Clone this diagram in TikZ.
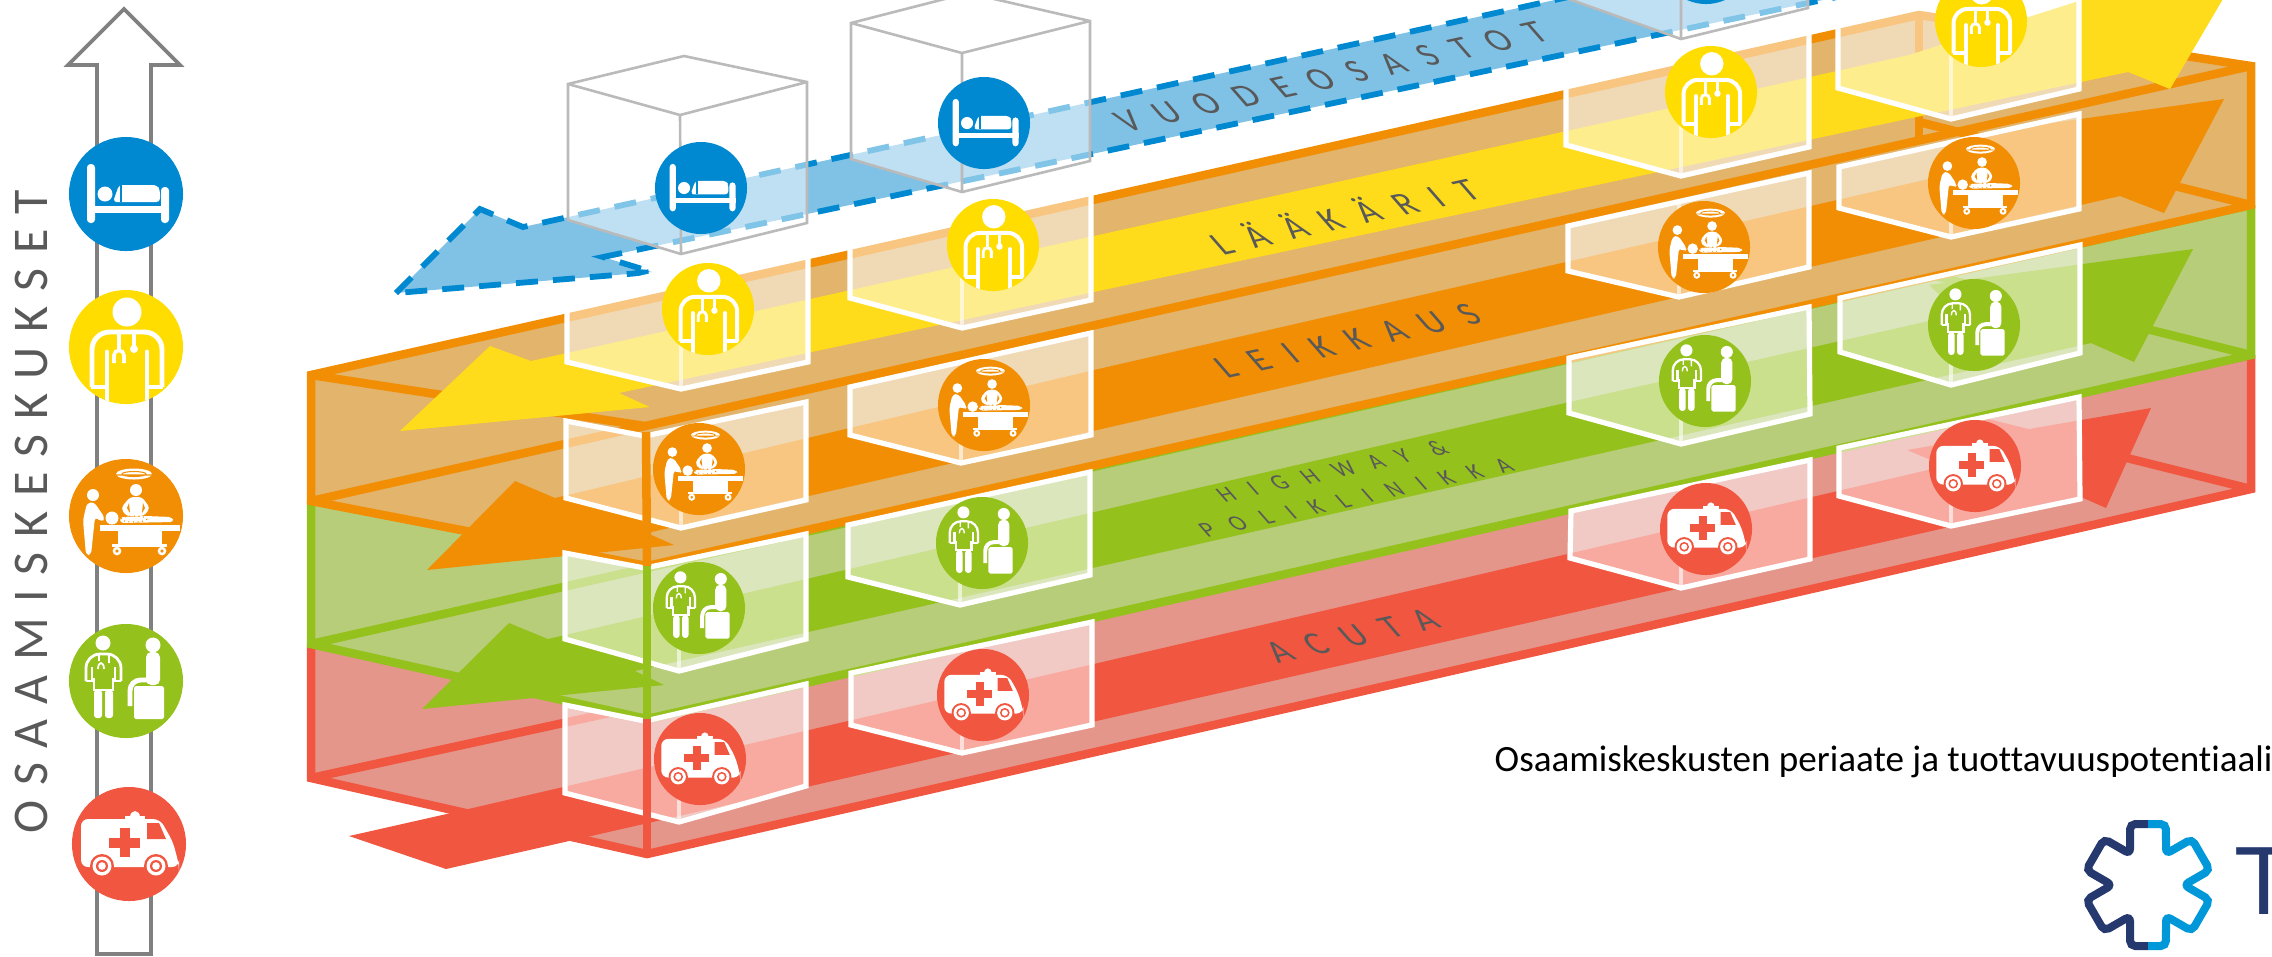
\documentclass[tikz,border=0pt]{standalone}
\usepackage{fontspec}
\setmainfont{Carlito}
\newfontfamily\logofont{Liberation Sans}
\definecolor{bedblue}{HTML}{0089D0}
\definecolor{bandblue}{HTML}{80C1E6}
\definecolor{docyellow}{HTML}{FFDD00}
\definecolor{bandyellow}{HTML}{FEDC1B}
\definecolor{surgorange}{HTML}{F18E04}
\definecolor{orangeface}{HTML}{E2B46C}
\definecolor{clinicgreen}{HTML}{95C11C}
\definecolor{greenface}{HTML}{B7CD7A}
\definecolor{acutared}{HTML}{F15641}
\definecolor{redface}{HTML}{E4968B}
\definecolor{labelgray}{HTML}{595959}
\definecolor{axisgray}{HTML}{808080}
\definecolor{starnavy}{HTML}{25396F}
\definecolor{starcyan}{HTML}{0098D8}
\newcommand{\starpath}{(106.4:63.6) -- (73.6:63.6) -- (60:36) -- (46.4:63.6) -- (13.6:63.6) -- (0:36) -- (-13.6:63.6) -- (-46.4:63.6) -- (-60:36) -- (-73.6:63.6) -- (-106.4:63.6) -- (-120:36) -- (-133.6:63.6) -- (-166.4:63.6) -- (180:36) -- (166.4:63.6) -- (133.6:63.6) -- (120:36) -- cycle}
\tikzset{
  prismline/.style={draw=#1, line width=0.085cm, line join=miter},
  boxface/.style={fill=white, fill opacity=0.5},
  whitebox/.style={boxface, draw=white, line width=0.052cm, line join=miter},
  grayline/.style={draw=black!27, line width=0.026cm},
  grayface/.style={boxface},
  frontedge/.style={draw=white, draw opacity=0.6, line width=0.04cm},
  badge/.style={circle, inner sep=0pt, minimum size=#1cm},
  levellabel/.style={text=labelgray, font=\fontsize{9.7}{11}\selectfont\addfontfeature{LetterSpace=55}, rotate=12.3, xslant=-0.55},
  smalllabel/.style={text=labelgray, font=\fontsize{6.5}{8}\selectfont\addfontfeature{LetterSpace=75}, rotate=12.3, xslant=-0.55},
  pics/bedicon/.style={code={
    \begin{scope}[scale=#1]
      \fill[white, rounded corners=1pt] (-39,-30) rectangle (-31,29);
      \fill[white, rounded corners=1pt] (35,-7) rectangle (43,29);
      \fill[white] (-39,12) rectangle (43,19);
      \fill[white] (-21,0) circle (7.5);
      \fill[white, rounded corners=1pt] (-13,8) -- (-7,-9) -- (31,-9) -- (34,-4) -- (34,8) -- cycle;
      \draw[bedblue, line width=#1*0.4pt] (-5,-9) -- (-5,8);
    \end{scope}}},
  pics/docicon/.style={code={
    \begin{scope}[scale=#1]
      \clip (0,0) circle (57);
      \fill[white] (1,-35) circle (14.5);
      \draw[white, line width=#1*1.4pt, rounded corners=#1*5pt] (-34,40) -- (-34,-15) -- (36,-15) -- (36,40);
      \draw[white, line width=#1*1.4pt] (-35,40) -- (-19,40) (37,40) -- (21,40);
      \draw[white, line width=#1*1.4pt, line cap=round] (-19,60) -- (-19,5) (21,60) -- (21,5);
      \draw[white, line width=#1*1pt] (-7,-15) -- (-7,3) (8,-15) -- (8,1);
      \draw[white, line width=#1*1pt] (-12,16) -- (-12,8) .. controls (-12,2) and (-2,2) .. (-2,8) -- (-2,16);
      \fill[white] (8,2) circle (4);
    \end{scope}}},
  pics/surgicon/.style={code={
    \begin{scope}[scale=#1]
      \fill[white] (8,-42) ellipse (18 and 5.5);
      \draw[surgorange, line width=#1*0.3pt] (8,-42) ellipse (12 and 2.5) (-10,-41) -- (26,-41);
      \fill[white] (10,-26) circle (6);
      \fill[white, rounded corners=1pt] (4,-19) -- (16,-19) -- (24,-8) -- (18,0) -- (0,0) -- (-5,-8) -- cycle;
      \fill[surgorange] (3,-13) -- (1,-8) -- (4,-3) -- cycle (17,-13) -- (19,-8) -- (16,-3) -- cycle;
      \fill[white] (-14,2) circle (6.5);
      \fill[white, rounded corners=1pt] (-6,1) -- (20,0) -- (46,1) -- (48,6) -- (-6,7) -- cycle;
      \draw[surgorange, line width=#1*0.3pt, densely dotted] (8,3) ellipse (13 and 3);
      \fill[white] (-26,9) rectangle (54,15);
      \fill[white] (-8,15) rectangle (36,28);
      \fill[white] (-14,28) rectangle (41,31);
      \draw[white, line width=#1*0.7pt] (-9,35) circle (3) (36,35) circle (3) (-9,31) -- (-9,32) (36,31) -- (36,32);
      \fill[white] (-33,-21) circle (6);
      \fill[white, rounded corners=1pt] (-39,-13) -- (-32,-14) -- (-21,2) -- (-24,6) -- (-31,1) -- (-35,39) -- (-40,39) -- (-43,4) -- cycle;
    \end{scope}}},
  pics/clinicicon/.style={code={
    \begin{scope}[scale=#1]
      \fill[white] (-23,-38) circle (7.5);
      \draw[white, line width=#1*0.8pt, rounded corners=#1*4pt] (-40,0) -- (-40,-27) -- (-5,-27) -- (-5,0);
      \draw[white, line width=#1*0.8pt] (-40,0) -- (-34,0) -- (-34,-14) (-5,0) -- (-11,0) -- (-11,-14);
      \draw[white, line width=#1*0.8pt] (-32,-3) -- (-32,9) -- (-13,9) -- (-13,-3);
      \draw[white, line width=#1*0.5pt] (-27,-27) -- (-27,-20) (-17,-27) -- (-17,-18) (-28,-12) .. controls (-28,-20) and (-22,-20) .. (-22,-12);
      \fill[white, rounded corners=0.8pt] (-32,9) rectangle (-24,37);
      \fill[white, rounded corners=0.8pt] (-21,9) rectangle (-13,37);
      \fill[white] (27,-36) circle (7.5);
      \fill[white, rounded corners=1.5pt] (20,-29) rectangle (34,4);
      \draw[white, line width=#1*1.4pt, rounded corners=#1*3pt] (21,-1) -- (4,-1) -- (4,25);
      \fill[white, rounded corners=0.5pt] (8,5) -- (38,5) -- (38,38) -- (8,38) -- cycle;
    \end{scope}}},
  pics/ambuicon/.style={code={
    \begin{scope}[scale=#1]
      \fill[white, rounded corners=2pt] (-48,-25) -- (31,-25) -- (44,-2) -- (50,21) -- (50,23) -- (-48,23) -- cycle;
      \fill[white] (-4,-28) -- (16,-28) -- (16,-25) -- (-4,-25) -- cycle;
      \fill[white] (6,-27) ellipse (5 and 6);
      \fill[acutared] (18,-21) -- (30,-21) -- (37,-5) -- (18,-5) -- cycle;
      \fill[acutared] (-20,-6) rectangle (11,4);
      \fill[acutared] (-9,-16) rectangle (1,13);
      \fill[acutared] (-27,22) circle (12) (27,22) circle (12);
      \fill[white] (-27,22) circle (9.5) (27,22) circle (9.5);
      \fill[acutared] (-27,22) circle (6) (27,22) circle (6);
      \fill[white] (-27,22) circle (3.8) (27,22) circle (3.8);
    \end{scope}}},
}
\begin{document}
\begin{tikzpicture}[x=0.01cm, y=-0.01cm]
\useasboundingbox (0,0) rectangle (2272,956);
\clip (0,0) rectangle (2272,956);

% axis arrow
\draw[draw=axisgray, line width=0.036cm] (124,9) -- (180,65) -- (151,65) -- (151,954) -- (97,954) -- (97,65) -- (68,65) -- cycle;
\node[text=labelgray, rotate=90, font=\fontsize{14.2}{16}\selectfont\addfontfeature{LetterSpace=30}] (axislabel) at (31,512) {OSAAMISKESKUKSET};

% prisms
\fill[redface] (311,644) -- (1919,285) -- (2251,355) -- (2251,489) -- (647,854) -- (311,778) -- cycle;
\draw[prismline=acutared] (311,644) -- (311,778) -- (647,854) -- (2251,489) -- (2251,355);
\draw[prismline=acutared] (311,778) -- (2251,355);
\draw[prismline=acutared] (1919,406) -- (2251,489);

\fill[greenface] (311,501) -- (1919,140) -- (2251,205) -- (2251,355) -- (647,719) -- (311,644) -- cycle;
\draw[prismline=clinicgreen] (311,501) -- (311,644) -- (647,719) -- (2251,355) -- (2251,205);
\draw[prismline=clinicgreen] (311,644) -- (2251,205);
\draw[prismline=clinicgreen] (1919,272) -- (2251,355);

\fill[orangeface] (311,375) -- (1919,15) -- (2251,66) -- (2251,205) -- (647,566) -- (311,501) -- cycle;
\draw[prismline=surgorange] (311,501) -- (311,375) -- (1919,15) -- (2251,66) -- (2251,205) -- (647,566) -- cycle;
\draw[prismline=surgorange] (311,375) -- (645,426) -- (2251,66);
\draw[prismline=surgorange] (311,501) -- (645,426);
\draw[prismline=surgorange] (1919,15) -- (1919,137);
\draw[prismline=surgorange] (1919,122) -- (2251,205);

% level arrows
\fill[acutared] (451,813) -- (1400,593) -- (1945,466) -- (1907,450) -- (2151,408) -- (2106,508) -- (2081,497) -- (446,869) -- (349,836) -- cycle;
\fill[clinicgreen] (422,709) -- (509,623) -- (548,639) -- (1512,415) -- (1960,314) -- (1929,285) -- (2193,249) -- (2134,362) -- (2091,343) -- (635,671) -- (664,685) -- cycle;
\fill[surgorange] (427,570) -- (515,481) -- (555,498) -- (1094,370) -- (1990,165) -- (1965,135) -- (2224,99) -- (2164,213) -- (2120,196) -- (647,533) -- (674,545) -- cycle;
\fill[bandyellow] (400,431) -- (490,346) -- (531,361) -- (1909,55) -- (2082,0) -- (2240,-30) -- (2170,89) -- (2128,72) -- (619,393) -- (650,407) -- cycle;
\draw[fill=bandblue, draw=bedblue, line width=0.058cm, dash pattern=on 0.22cm off 0.15cm] (396,293) -- (480,209) -- (523,227) -- (1600,-10) -- (1870,-10) -- (603,257) -- (652,272) -- cycle;

% gray boxes
\fill[grayface] (568,84) -- (684,56) -- (807,82) -- (807,223) -- (681,254) -- (568,220) -- cycle;
\draw[grayline] (568,220) -- (568,84) -- (684,56) -- (807,82) -- (807,223) -- (681,254) -- cycle;
\draw[grayline] (568,84) -- (680,115) -- (807,82) (680,115) -- (681,254);
\fill[grayface] (851,23) -- (968,-7) -- (1090,21) -- (1090,161) -- (962,192) -- (851,159) -- cycle;
\draw[grayline] (851,159) -- (851,23) -- (968,-7) -- (1090,21) -- (1090,161) -- (962,192) -- cycle;
\draw[grayline] (851,23) -- (962,53) -- (1090,21) (962,53) -- (962,192);
\fill[grayface] (1566,-10) -- (1808,-10) -- (1808,8) -- (1681,39) -- (1566,-2) -- cycle;
\draw[grayline] (1566,-2) -- (1681,39) -- (1808,8) -- (1808,-10) (1681,39) -- (1681,-10);

% white boxes, row by row
\draw[whitebox] (567,295) -- (808,240) -- (808,362) -- (681,389) -- (567,362) -- cycle;
\draw[whitebox] (850,235) -- (1091,182) -- (1091,300) -- (962,328) -- (850,298) -- cycle;
\draw[whitebox] (1566,70) -- (1809,18) -- (1809,147) -- (1681,176) -- (1566,145) -- cycle;
\draw[whitebox] (1838,15) -- (2079,-40) -- (2079,89) -- (1951,119) -- (1838,88) -- cycle;

\draw[whitebox] (566,421) -- (645,436) -- (806,402) -- (806,500) -- (681,528) -- (566,498) -- cycle;
\draw[whitebox] (850,387) -- (1091,333) -- (1091,435) -- (961,463) -- (850,435) -- cycle;
\draw[whitebox] (1568,226) -- (1809,173) -- (1809,267) -- (1679,297) -- (1568,271) -- cycle;
\draw[whitebox] (1839,167) -- (2079,114) -- (2079,209) -- (1951,237) -- (1839,208) -- cycle;

\draw[whitebox] (565,553) -- (645,568) -- (806,534) -- (806,639) -- (679,671) -- (565,639) -- cycle;
\draw[whitebox] (848,525) -- (1090,472) -- (1090,575) -- (960,605) -- (848,577) -- cycle;
\draw[whitebox] (1569,358) -- (1809,307) -- (1810,414) -- (1681,444) -- (1569,413) -- cycle;
\draw[whitebox] (1840,298) -- (2080,245) -- (2080,353) -- (1951,385) -- (1840,352) -- cycle;

\draw[whitebox] (565,705) -- (645,721) -- (806,684) -- (806,786) -- (679,822) -- (565,793) -- cycle;
\draw[whitebox] (851,673) -- (1092,622) -- (1092,725) -- (962,753) -- (851,725) -- cycle;
\draw[whitebox] (1571,511) -- (1810,460) -- (1810,559) -- (1681,588) -- (1570,558) -- cycle;
\draw[whitebox] (1839,448) -- (2079,397) -- (2080,499) -- (1951,526) -- (1839,496) -- cycle;

% front edges of the boxes
\foreach \x/\y in {681/389, 962/328, 1681/176, 1951/119, 681/528, 961/463, 1679/297, 1951/237, 679/671, 960/605, 1681/444, 1951/385, 679/822, 962/753, 1681/588, 1951/526}
  \draw[frontedge] (\x,\y) -- (\x,\y-95);

% prism edges in front of the boxes
\draw[prismline=surgorange] (646,432) -- (647,566);
\draw[prismline=clinicgreen] (647,566) -- (647,719);
\draw[prismline=acutared] (647,719) -- (647,854);

% badges on the axis
\node[badge=1.14, fill=bedblue] (bedaxis) at (126,194) {};
\pic at (bedaxis) {bedicon=1};
\node[badge=1.14, fill=docyellow] (docaxis) at (126,347) {};
\pic at (docaxis) {docicon=1};
\node[badge=1.14, fill=surgorange] (surgaxis) at (126,516) {};
\pic at (surgaxis) {surgicon=1};
\node[badge=1.14, fill=clinicgreen] (clinicaxis) at (126,681) {};
\pic at (clinicaxis) {clinicicon=1};
\node[badge=1.14, fill=acutared] (ambuaxis) at (129,844) {};
\pic at (ambuaxis) {ambuicon=1};

% badges in the boxes
\foreach \n/\x/\y in {a/701/188, b/984/123, c/1706/-42}{
  \node[badge=0.92, fill=bedblue] (bed\n) at (\x,\y) {};
  \pic at (bed\n) {bedicon=0.807};}
\foreach \n/\x/\y in {a/708/309, b/993/245, c/1711/92, d/1981/21}{
  \node[badge=0.92, fill=docyellow] (doc\n) at (\x,\y) {};
  \pic at (doc\n) {docicon=0.807};}
\foreach \n/\x/\y in {a/699/469, b/984/405, c/1704/247, d/1974/183}{
  \node[badge=0.92, fill=surgorange] (surg\n) at (\x,\y) {};
  \pic at (surg\n) {surgicon=0.807};}
\foreach \n/\x/\y in {a/699/608, b/982/543, c/1705/381, d/1974/325}{
  \node[badge=0.92, fill=clinicgreen] (clinic\n) at (\x,\y) {};
  \pic at (clinic\n) {clinicicon=0.807};}
\foreach \n/\x/\y in {a/700/759, b/983/695, c/1706/529, d/1975/466}{
  \node[badge=0.92, fill=acutared] (ambu\n) at (\x,\y) {};
  \pic at (ambu\n) {ambuicon=0.807};}

% labels
\node[levellabel] (wardlabel) at (1331,77) {VUODEOSASTOT};
\node[levellabel] (doclabel) at (1343,215) {LÄÄKÄRIT};
\node[levellabel] (surglabel) at (1348,341) {LEIKKAUS};
\node[smalllabel] (highwaylabel) at (1332,471) {HIGHWAY \&};
\node[smalllabel] (polilabel) at (1356,498) {POLIKLINIKKA};
\node[levellabel] (acutalabel) at (1352,636) {ACUTA};
\node[anchor=base west, text=black, font=\fontsize{10.55}{12}\selectfont\addfontfeature{Ligatures=NoCommon}, inner sep=0pt] (caption) at (1494,771) {Osaamiskeskusten periaate ja tuottavuuspotentiaali};

% logo
\begin{scope}[shift={(2148,885)}]
  \begin{scope}
    \clip (-80,-80) rectangle (0,80);
    \draw[draw=starnavy, line width=0.08cm, rounded corners=1.5pt] \starpath;
  \end{scope}
  \begin{scope}
    \clip (0,-80) rectangle (80,80);
    \draw[draw=starcyan, line width=0.08cm, rounded corners=1.5pt] \starpath;
  \end{scope}
\end{scope}
\node[anchor=base, text=starnavy, inner sep=0pt, font=\logofont\fontsize{27.6}{28}\selectfont] (logotext) at (2264,914) {T};
\end{tikzpicture}
\end{document}
